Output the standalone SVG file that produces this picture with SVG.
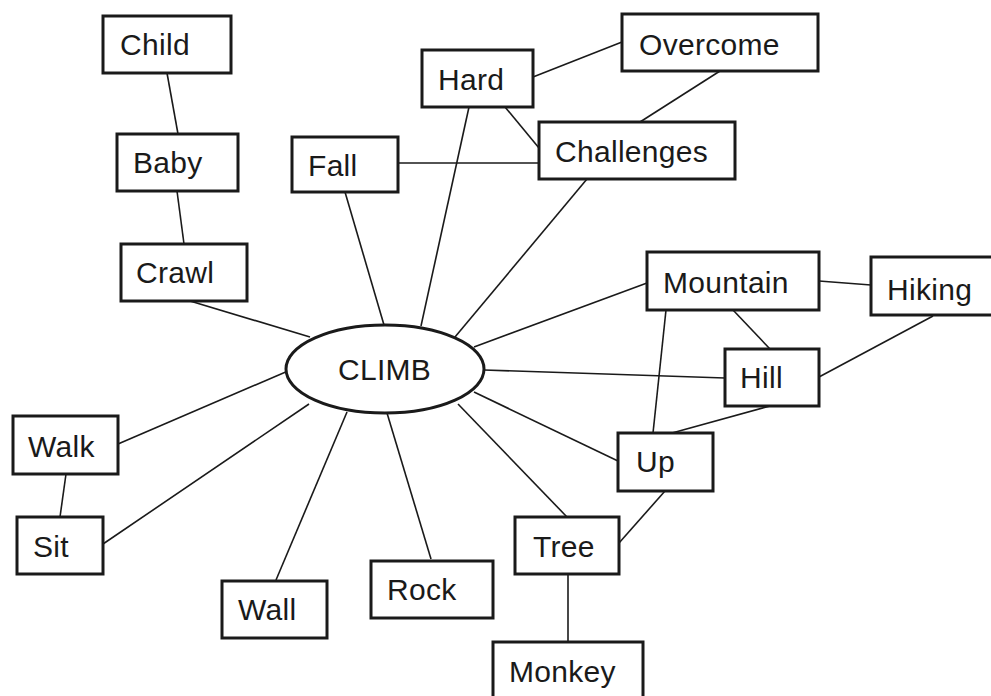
<svg xmlns="http://www.w3.org/2000/svg" width="991" height="696" viewBox="0 0 991 696">
  <style>
    .box rect { fill: #ffffff; stroke: #1a1a1a; stroke-width: 3; }
    .box ellipse { fill: #ffffff; stroke: #1a1a1a; stroke-width: 3; }
    .box text { font-family: "Liberation Sans", Arial, sans-serif; font-size: 30px; letter-spacing: 0.3px; fill: #1a1a1a; }
    #links line { stroke: #1a1a1a; stroke-width: 1.6; }
  </style>
  <rect x="0" y="0" width="991" height="696" fill="#ffffff"/>

  <!-- connectors -->
  <g id="links">
    <line x1="167" y1="73" x2="178" y2="134"/>
    <line x1="177" y1="191" x2="184" y2="244"/>
    <line x1="190" y1="301" x2="310" y2="337"/>
    <line x1="345" y1="192" x2="384" y2="325"/>
    <line x1="469" y1="107" x2="421" y2="326"/>
    <line x1="587" y1="179" x2="455" y2="337"/>
    <line x1="398" y1="163" x2="539" y2="163"/>
    <line x1="505" y1="107" x2="539" y2="148"/>
    <line x1="533" y1="77" x2="622" y2="42"/>
    <line x1="720" y1="71" x2="640" y2="122"/>
    <line x1="647" y1="283" x2="474" y2="347"/>
    <line x1="819" y1="281" x2="871" y2="285"/>
    <line x1="733" y1="310" x2="770" y2="349"/>
    <line x1="933" y1="316" x2="819" y2="377"/>
    <line x1="725" y1="378" x2="484" y2="370"/>
    <line x1="666" y1="310" x2="653" y2="433"/>
    <line x1="770" y1="406" x2="672" y2="433"/>
    <line x1="618" y1="461" x2="474" y2="392"/>
    <line x1="665" y1="491" x2="619" y2="543"/>
    <line x1="567" y1="517" x2="458" y2="404"/>
    <line x1="568" y1="574" x2="568" y2="642"/>
    <line x1="431" y1="559" x2="387" y2="413"/>
    <line x1="276" y1="580" x2="347" y2="412"/>
    <line x1="103" y1="544" x2="309" y2="404"/>
    <line x1="118" y1="444" x2="288" y2="371"/>
    <line x1="66" y1="474" x2="60" y2="517"/>
  </g>

  <!-- nodes -->
  <g id="climb" class="box">
    <ellipse cx="385" cy="369" rx="99" ry="44"/>
    <text x="338" y="380">CLIMB</text>
  </g>
  <g id="child" class="box">
    <rect x="103" y="16" width="128" height="57"/>
    <text x="120" y="55">Child</text>
  </g>
  <g id="baby" class="box">
    <rect x="117" y="134" width="121" height="57"/>
    <text x="133" y="173">Baby</text>
  </g>
  <g id="crawl" class="box">
    <rect x="121" y="244" width="126" height="57"/>
    <text x="136" y="283">Crawl</text>
  </g>
  <g id="fall" class="box">
    <rect x="292" y="137" width="106" height="55"/>
    <text x="308" y="176">Fall</text>
  </g>
  <g id="hard" class="box">
    <rect x="422" y="50" width="111" height="57"/>
    <text x="438" y="90">Hard</text>
  </g>
  <g id="overcome" class="box">
    <rect x="622" y="14" width="196" height="57"/>
    <text x="639" y="55">Overcome</text>
  </g>
  <g id="challenges" class="box">
    <rect x="539" y="122" width="196" height="57"/>
    <text x="555" y="162">Challenges</text>
  </g>
  <g id="mountain" class="box">
    <rect x="647" y="252" width="172" height="58"/>
    <text x="663" y="293">Mountain</text>
  </g>
  <g id="hiking" class="box">
    <rect x="871" y="257" width="130" height="58"/>
    <text x="887" y="300">Hiking</text>
  </g>
  <g id="hill" class="box">
    <rect x="725" y="349" width="94" height="57"/>
    <text x="740" y="388">Hill</text>
  </g>
  <g id="up" class="box">
    <rect x="618" y="433" width="95" height="58"/>
    <text x="636" y="472">Up</text>
  </g>
  <g id="tree" class="box">
    <rect x="515" y="517" width="104" height="57"/>
    <text x="533" y="557">Tree</text>
  </g>
  <g id="monkey" class="box">
    <rect x="493" y="642" width="150" height="70"/>
    <text x="509" y="682">Monkey</text>
  </g>
  <g id="rock" class="box">
    <rect x="371" y="561" width="122" height="57"/>
    <text x="387" y="600">Rock</text>
  </g>
  <g id="wall" class="box">
    <rect x="222" y="581" width="105" height="57"/>
    <text x="238" y="620">Wall</text>
  </g>
  <g id="walk" class="box">
    <rect x="13" y="416" width="105" height="58"/>
    <text x="28" y="457">Walk</text>
  </g>
  <g id="sit" class="box">
    <rect x="17" y="517" width="86" height="57"/>
    <text x="33" y="557">Sit</text>
  </g>
</svg>
